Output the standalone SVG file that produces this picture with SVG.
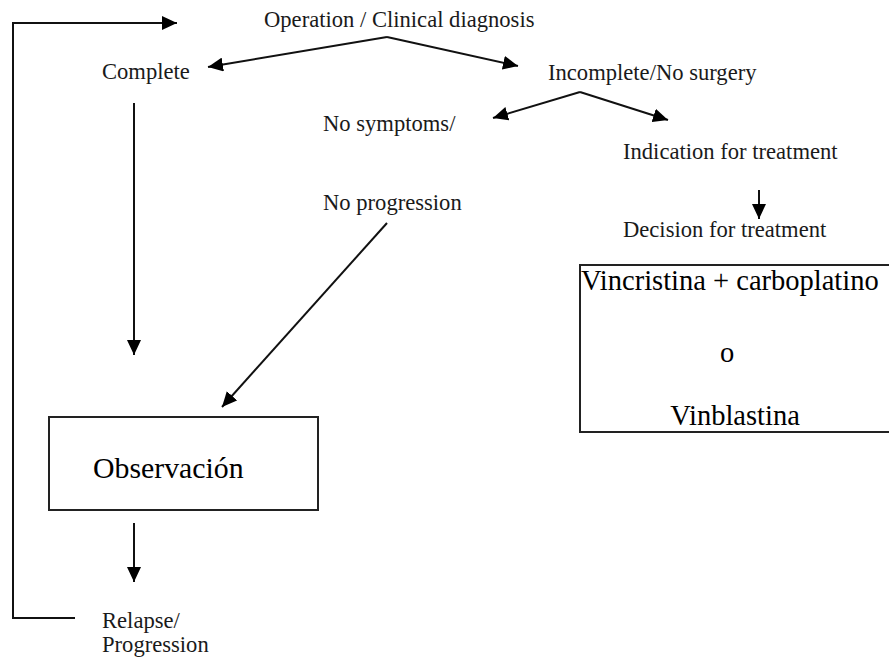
<svg xmlns="http://www.w3.org/2000/svg" width="889" height="662" viewBox="0 0 889 662">
<style>
.c{fill:none;stroke:#111;stroke-width:2}
.box{fill:#fff;stroke:#222;stroke-width:2}
</style>
<defs>
<marker id="ah" markerUnits="userSpaceOnUse" markerWidth="16" markerHeight="14" refX="15" refY="7" orient="auto">
<path d="M0,0 L15,7 L0,14 z" fill="#000"/>
</marker>
</defs>
<rect width="889" height="662" fill="#fff"/>
<g id="connectors">
<polyline class="c" points="75,618 13,618 13,23 177,23" marker-end="url(#ah)"/>
<line class="c" x1="387" y1="37" x2="208" y2="67" marker-end="url(#ah)"/>
<line class="c" x1="387" y1="37" x2="518" y2="66" marker-end="url(#ah)"/>
<line class="c" x1="580" y1="92" x2="493" y2="118" marker-end="url(#ah)"/>
<line class="c" x1="580" y1="92" x2="668" y2="120" marker-end="url(#ah)"/>
<line class="c" x1="134" y1="103" x2="134" y2="355" marker-end="url(#ah)"/>
<line class="c" x1="387" y1="223" x2="222" y2="407" marker-end="url(#ah)"/>
<line class="c" x1="134" y1="523" x2="134" y2="582" marker-end="url(#ah)"/>
<line class="c" x1="759" y1="190" x2="759" y2="219" marker-end="url(#ah)"/>
</g>
<g font-family="Liberation Serif" font-size="22.6" fill="#1a1a1a">
<g id="operation"><text x="264" y="27">Operation / Clinical diagnosis</text></g>
<g id="complete"><text x="102" y="79">Complete</text></g>
<g id="incomplete"><text x="548" y="80">Incomplete/No surgery</text></g>
<g id="nosymptoms"><text x="323" y="131">No symptoms/</text><text x="323" y="210">No progression</text></g>
<g id="indication"><text x="623" y="159">Indication for treatment</text></g>
<g id="decision"><text x="623" y="237">Decision for treatment</text></g>
<g id="relapse"><text x="102" y="628">Relapse/</text><text x="102" y="652">Progression</text></g>
</g>
<g font-family="Liberation Serif" fill="#000">
<g id="treatment" font-size="28.5">
<rect class="box" x="580" y="265" width="320" height="167"/>
<text x="581" y="290">Vincristina + carboplatino</text>
<text x="727" y="362" text-anchor="middle">o</text>
<text x="735" y="425" text-anchor="middle">Vinblastina</text>
</g>
<g id="observacion" font-size="29.8">
<rect class="box" x="49" y="417" width="269" height="93"/>
<text x="93" y="478">Observación</text>
</g>
</g>
</svg>
